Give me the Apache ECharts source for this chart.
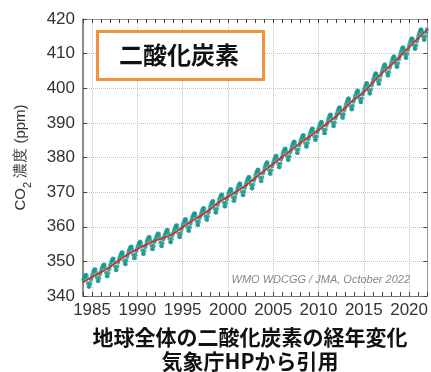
<!DOCTYPE html>
<html>
<head>
<meta charset="utf-8">
<script src="https://cdn.jsdelivr.net/npm/echarts@6/dist/echarts.min.js"></script>
<style>
html, body { margin: 0; padding: 0; background: #fff; }
#main { width: 431px; height: 372px; }
</style>
</head>
<body>
<div id="main"></div>
<script>
// 月平均値 (1984年1月から, 1年12個)
var startYear = 1984;
var monthlyCO2 = [
  344.7, 345.3, 345.8, 346.1, 346.0, 345.1, 343.7, 342.7, 342.7, 343.6, 344.7, 345.4, // 1984
  346.2, 346.9, 347.4, 347.7, 347.6, 346.7, 345.3, 344.3, 344.3, 345.2, 346.3, 347.0, // 1985
  347.7, 348.3, 348.8, 349.1, 349.0, 348.1, 346.7, 345.7, 345.7, 346.6, 347.7, 348.4, // 1986
  349.2, 349.9, 350.4, 350.8, 350.7, 349.8, 348.5, 347.5, 347.5, 348.5, 349.7, 350.4, // 1987
  351.1, 351.7, 352.3, 352.6, 352.5, 351.6, 350.2, 349.3, 349.2, 350.2, 351.3, 352.1, // 1988
  352.9, 353.5, 354.0, 354.3, 354.2, 353.3, 351.9, 350.9, 350.9, 351.8, 352.9, 353.6, // 1989
  354.3, 354.9, 355.4, 355.7, 355.5, 354.6, 353.2, 352.2, 352.1, 353.0, 354.1, 354.8, // 1990
  355.7, 356.3, 356.8, 357.1, 356.9, 356.0, 354.6, 353.6, 353.5, 354.4, 355.5, 356.2, // 1991
  356.7, 357.3, 357.8, 358.1, 357.9, 357.0, 355.5, 354.5, 354.4, 355.3, 356.4, 357.1, // 1992
  357.7, 358.3, 358.8, 359.1, 358.9, 358.0, 356.6, 355.6, 355.5, 356.4, 357.5, 358.2, // 1993
  358.9, 359.5, 360.1, 360.4, 360.3, 359.4, 358.0, 357.1, 357.0, 358.0, 359.1, 359.9, // 1994
  360.7, 361.3, 361.9, 362.2, 362.1, 361.2, 359.8, 358.9, 358.8, 359.8, 360.9, 361.7, // 1995
  362.5, 363.1, 363.6, 363.9, 363.8, 362.9, 361.5, 360.5, 360.5, 361.4, 362.5, 363.2, // 1996
  363.9, 364.5, 365.1, 365.4, 365.3, 364.4, 363.0, 362.1, 362.0, 363.0, 364.1, 364.9, // 1997
  365.8, 366.5, 367.0, 367.4, 367.3, 366.4, 365.1, 364.1, 364.1, 365.1, 366.3, 367.0, // 1998
  367.9, 368.5, 369.0, 369.3, 369.2, 368.3, 366.9, 365.9, 365.9, 366.8, 367.9, 368.6, // 1999
  369.5, 370.1, 370.6, 370.9, 370.8, 369.9, 368.5, 367.5, 367.5, 368.4, 369.5, 370.2, // 2000
  371.0, 371.6, 372.2, 372.5, 372.4, 371.5, 370.1, 369.2, 369.1, 370.1, 371.2, 372.0, // 2001
  372.8, 373.5, 374.0, 374.4, 374.3, 373.4, 372.1, 371.1, 371.1, 372.1, 373.3, 374.0, // 2002
  374.9, 375.6, 376.1, 376.5, 376.4, 375.5, 374.2, 373.2, 373.2, 374.2, 375.4, 376.1, // 2003
  377.0, 377.7, 378.2, 378.6, 378.5, 377.6, 376.3, 375.3, 375.3, 376.3, 377.5, 378.2, // 2004
  378.9, 379.6, 380.1, 380.5, 380.4, 379.5, 378.2, 377.2, 377.2, 378.2, 379.4, 380.1, // 2005
  381.0, 381.7, 382.2, 382.6, 382.5, 381.6, 380.3, 379.3, 379.3, 380.3, 381.5, 382.2, // 2006
  383.0, 383.7, 384.2, 384.6, 384.5, 383.6, 382.3, 381.3, 381.3, 382.3, 383.5, 384.2, // 2007
  385.0, 385.6, 386.2, 386.5, 386.4, 385.5, 384.1, 383.2, 383.1, 384.1, 385.2, 386.0, // 2008
  386.8, 387.5, 388.0, 388.4, 388.3, 387.4, 386.1, 385.1, 385.1, 386.1, 387.3, 388.0, // 2009
  388.7, 389.4, 389.9, 390.3, 390.2, 389.3, 388.0, 387.0, 387.0, 388.0, 389.2, 389.9, // 2010
  390.8, 391.5, 392.0, 392.4, 392.3, 391.4, 390.1, 389.1, 389.1, 390.1, 391.3, 392.0, // 2011
  392.8, 393.5, 394.1, 394.5, 394.4, 393.7, 392.4, 391.5, 391.5, 392.5, 393.7, 394.5, // 2012
  395.4, 396.1, 396.7, 397.1, 396.9, 396.1, 394.8, 393.9, 393.9, 394.9, 396.1, 396.9, // 2013
  397.7, 398.4, 398.9, 399.3, 399.2, 398.3, 397.0, 396.0, 396.0, 397.0, 398.2, 398.9, // 2014
  399.7, 400.4, 401.1, 401.5, 401.4, 400.7, 399.4, 398.5, 398.5, 399.6, 400.8, 401.6, // 2015
  402.5, 403.2, 403.9, 404.3, 404.2, 403.5, 402.2, 401.3, 401.3, 402.4, 403.6, 404.4, // 2016
  405.2, 405.9, 406.5, 406.9, 406.7, 405.9, 404.6, 403.7, 403.7, 404.7, 405.9, 406.7, // 2017
  407.5, 408.2, 408.8, 409.2, 409.1, 408.4, 407.1, 406.2, 406.2, 407.2, 408.4, 409.2, // 2018
  410.0, 410.7, 411.4, 411.8, 411.7, 411.0, 409.7, 408.8, 408.8, 409.9, 411.1, 411.9, // 2019
  412.7, 413.4, 414.0, 414.4, 414.3, 413.6, 412.3, 411.4, 411.4, 412.4, 413.6, 414.4, // 2020
  415.3, 416.0, 416.6, 417.0, 416.9, 416.2, 414.9, 414.0, 414.0, 415.0, 416.2, 417.0  // 2021
];

// 経年変化 (各年1月1日時点のトレンド)
var trendYears = [1984, 1985, 1986, 1987, 1988, 1989, 1990, 1991, 1992, 1993,
  1994, 1995, 1996, 1997, 1998, 1999, 2000, 2001, 2002, 2003, 2004, 2005,
  2006, 2007, 2008, 2009, 2010, 2011, 2012, 2013, 2014, 2015, 2016, 2017,
  2018, 2019, 2020, 2021, 2022];
var trendCO2 = [343.9, 345.45, 346.85, 348.4, 350.3, 352.1, 353.5, 354.85, 356.0, 356.85,
  358.05, 359.85, 361.65, 363.1, 364.95, 367.05, 368.65, 370.2, 371.95, 374.05, 376.15, 378.1,
  380.15, 382.15, 384.15, 386.0, 387.9, 389.95, 392.0, 394.55, 396.85, 398.85, 401.65, 404.4,
  406.65, 409.15, 411.85, 414.45, 416.9];

var xLabelYears = [1985, 1990, 1995, 2000, 2005, 2010, 2015, 2020];
var yTicks = [340, 350, 360, 370, 380, 390, 400, 410, 420];

var obsPoints = monthlyCO2.map(function (v, i) {
  return [startYear + Math.floor(i / 12) + ((i % 12) + 0.5) / 12, v];
});
var trendPoints = trendYears.map(function (y, i) {
  return [y, trendCO2[i]];
});

var labelFont = '"Liberation Sans", Arial, sans-serif';
var jpFont = '"Noto Sans CJK JP", sans-serif';

var myChart = echarts.init(document.getElementById('main'));
var option = {
  backgroundColor: '#fff',
  animation: false,
  grid: { left: 83, right: 2, top: 19, bottom: 76 },
  xAxis: [
    {
      type: 'value',
      min: 1984,
      max: 2022,
      position: 'bottom',
      axisLine: { show: true, onZero: false, lineStyle: { color: '#777', width: 1 } },
      axisTick: { show: false, customValues: xLabelYears },
      axisLabel: {
        customValues: xLabelYears,
        color: '#333',
        fontSize: 17,
        fontFamily: labelFont,
        margin: 6,
        formatter: function (v) { return String(v); }
      },
      splitLine: { show: true, lineStyle: { color: '#c4c4c4', type: 'dotted', width: 1 } }
    },
    {
      // 年ごとの小目盛 (下)
      type: 'value',
      min: 1984,
      max: 2022,
      interval: 1,
      position: 'bottom',
      axisLine: { show: false },
      axisTick: { show: true, inside: true, length: 4, lineStyle: { color: '#444' } },
      axisLabel: { show: false },
      splitLine: { show: false }
    },
    {
      // 年ごとの小目盛 (上)
      type: 'value',
      min: 1984,
      max: 2022,
      interval: 1,
      position: 'top',
      axisLine: { show: true, onZero: false, lineStyle: { color: '#999' } },
      axisTick: { show: true, inside: true, length: 4, lineStyle: { color: '#444' } },
      axisLabel: { show: false },
      splitLine: { show: false }
    }
  ],
  yAxis: [
    {
      type: 'value',
      min: yTicks[0],
      max: yTicks[yTicks.length - 1],
      interval: 10,
      position: 'left',
      name: '{a|CO}{s|2}{a| 濃度 (ppm)}',
      nameLocation: 'middle',
      nameGap: 50,
      nameTextStyle: {
        color: '#333',
        rich: {
          a: { fontSize: 15, fontFamily: labelFont, color: '#333', verticalAlign: 'top', lineHeight: 17 },
          s: { fontSize: 11, fontFamily: labelFont, color: '#333', verticalAlign: 'bottom', lineHeight: 20 }
        }
      },
      axisLine: { show: true, onZero: false, lineStyle: { color: '#666', width: 1.5 } },
      axisTick: { show: true, inside: true, length: 4, lineStyle: { color: '#444' } },
      axisLabel: { color: '#333', fontSize: 17, fontFamily: labelFont, margin: 8 },
      splitLine: { show: true, lineStyle: { color: '#c4c4c4', type: 'dotted', width: 1 } }
    },
    {
      type: 'value',
      min: yTicks[0],
      max: yTicks[yTicks.length - 1],
      interval: 10,
      position: 'right',
      axisLine: { show: true, onZero: false, lineStyle: { color: '#999' } },
      axisTick: { show: true, inside: true, length: 4, lineStyle: { color: '#444' } },
      axisLabel: { show: false },
      splitLine: { show: false }
    }
  ],
  series: [
    {
      name: '月平均値',
      type: 'scatter',
      symbol: 'circle',
      symbolSize: 4.2,
      itemStyle: { color: '#16978f' },
      data: obsPoints,
      z: 2
    },
    {
      name: '経年変化',
      type: 'line',
      showSymbol: false,
      smooth: 0.3,
      lineStyle: { color: '#e8211c', width: 1.6 },
      data: trendPoints,
      z: 3
    }
  ],
  graphic: [
    {
      type: 'rect',
      left: 96,
      top: 30,
      shape: { width: 166, height: 48 },
      style: { fill: '#fff', stroke: '#f3923c', lineWidth: 3 },
      z: 10
    },
    {
      type: 'text',
      x: 179,
      y: 55,
      style: {
        text: '二酸化炭素',
        font: 'bold 24px ' + jpFont,
        fill: '#111',
        textAlign: 'center',
        textVerticalAlign: 'middle'
      },
      z: 11
    },
    {
      type: 'text',
      x: 410,
      y: 280,
      style: {
        text: 'WMO WDCGG / JMA, October 2022',
        font: 'italic 11px ' + labelFont,
        fill: '#888',
        textAlign: 'right',
        textVerticalAlign: 'middle'
      },
      z: 10
    },
    {
      type: 'text',
      x: 250,
      y: 337,
      style: {
        text: '地球全体の二酸化炭素の経年変化',
        font: 'bold 21px ' + jpFont,
        fill: '#111',
        textAlign: 'center',
        textVerticalAlign: 'middle'
      }
    },
    {
      type: 'text',
      x: 250,
      y: 361,
      style: {
        text: '気象庁HPから引用',
        font: 'bold 21px ' + jpFont,
        fill: '#111',
        textAlign: 'center',
        textVerticalAlign: 'middle'
      }
    }
  ]
};
myChart.setOption(option);
</script>
</body>
</html>
